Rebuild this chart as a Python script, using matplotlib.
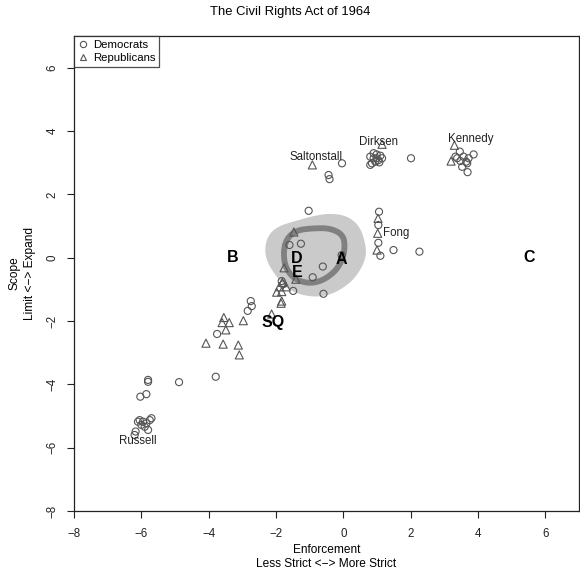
import matplotlib
matplotlib.use("Agg")
import matplotlib.pyplot as plt
from matplotlib.lines import Line2D
import numpy as np

plt.rcParams['font.family'] = ['Liberation Sans', 'DejaVu Sans']

# Democrats (circles)
dem_x = [-1.03, -1.60, -1.26, -0.61, -0.91, -0.59, -1.49, -1.83, -1.79, -0.05,
         1.06, 1.04, 1.04, 1.10, 1.49, 2.26,
         0.80, 0.90, 0.99, 1.10, 1.15, 1.04, 0.95, 0.85, 0.80, 0.90, 0.99, 1.07, 2.01,
         -0.04, -0.44, -0.41,
         3.46, 3.87, 3.72, 3.53, 3.69, 3.57, 3.38, 3.48, 3.65, 3.33, 3.68,
         -3.75, -2.84, -2.72, -2.75,
         -5.80, -5.80, -6.03, -5.85, -4.88, -3.79,
         -6.05, -5.95, -5.85, -5.75, -5.70, -6.00, -5.90, -5.80, -6.10, -6.17, -6.20]
dem_y = [1.48, 0.40, 0.44, -0.28, -0.62, -1.14, -1.05, -0.74, -0.84, 0.08,
         1.45, 1.03, 0.47, 0.06, 0.24, 0.19,
         3.19, 3.30, 3.26, 3.22, 3.14, 3.08, 3.03, 2.98, 2.93, 3.14, 3.14, 3.01, 3.14,
         2.98, 2.61, 2.48,
         3.35, 3.26, 3.14, 2.87, 2.70, 3.19, 3.14, 3.05, 3.03, 3.19, 2.98,
         -2.41, -1.68, -1.53, -1.37,
         -3.86, -3.92, -4.39, -4.31, -3.93, -3.76,
         -5.13, -5.18, -5.23, -5.13, -5.07, -5.28, -5.34, -5.44, -5.18, -5.49, -5.60]

# Republicans (triangles)
rep_x = [-1.47, -1.76, -1.41, -1.81, -1.90, -1.70, -1.98, -1.83, -1.83, -1.85,
         -2.13, -2.97, -3.55, -3.60, -3.39, -3.49, -4.08, -3.57, -3.12, -3.09,
         1.03, 1.02, 1.00,
         -0.92, 1.15,
         3.30, 3.20]
rep_y = [0.81, -0.32, -0.68, -0.78, -0.92, -0.92, -1.09, -1.07, -1.37, -1.44,
         -1.78, -1.99, -1.89, -2.05, -2.05, -2.28, -2.70, -2.73, -2.76, -3.07,
         1.24, 0.77, 0.24,
         2.93, 3.58,
         3.55, 3.05]

# Senator labels
sen_names = ["Kennedy", "Dirksen", "Saltonstall", "Russell"]
sen_x = [3.77, 1.04, -0.82, -6.11]
sen_y = [3.75, 3.66, 3.17, -5.79]
fong_xy = (1.19, 0.77)

# Proposal labels
prop_names = ["A", "B", "C", "D", "E", "SQ"]
prop_x = [-0.05, -3.28, 5.53, -1.38, -1.36, -2.08]
prop_y = [-0.05, 0.0, 0.0, -0.02, -0.46, -2.04]

# Light gray region outline
reg_x = [-2.34, -2.22, -1.90, -1.38, -0.89, -0.39, 0.12, 0.48, 0.64, 0.69, 0.53,
         0.22, -0.29, -0.79, -1.31, -1.71, -2.01, -2.27]
reg_y = [0.30, 0.74, 1.01, 1.17, 1.32, 1.40, 1.32, 1.00, 0.52, 0.08, -0.36,
         -0.79, -1.14, -1.25, -1.16, -0.95, -0.57, -0.13]

# Dark ring
ring_x = [-1.78, -1.68, -1.38, -0.89, -0.39, 0.00, 0.05, -0.05, -0.29, -0.69,
          -1.09, -1.49, -1.73]
ring_y = [0.19, 0.61, 0.87, 0.93, 0.93, 0.72, 0.30, -0.13, -0.49, -0.76,
          -0.81, -0.65, -0.28]


def chaikin(xs, ys, n=3):
    p = np.column_stack([xs, ys])
    for _ in range(n):
        q = np.roll(p, -1, axis=0)
        a = 0.75 * p + 0.25 * q
        b = 0.25 * p + 0.75 * q
        p = np.empty((2 * len(a), 2))
        p[0::2] = a
        p[1::2] = b
    p = np.vstack([p, p[:1]])
    return p[:, 0], p[:, 1]


fig = plt.figure(figsize=(5.8, 5.71), dpi=100)
ax = fig.add_axes([74/580, 1 - 511/571, 505/580, 475/571])

rx, ry = chaikin(reg_x, reg_y)
ax.fill(rx, ry, color='#cacaca', lw=0, zorder=1)
cx, cy = chaikin(ring_x, ring_y)
ax.plot(cx, cy, color='#808080', lw=4.2, solid_joinstyle='round',
        solid_capstyle='round', zorder=2)

ax.scatter(dem_x, dem_y, s=26, marker='o', facecolors='none',
           edgecolors='#555555', linewidths=0.8, zorder=3)
ax.scatter(rep_x, rep_y, s=34, marker='^', facecolors='none',
           edgecolors='#555555', linewidths=0.8, zorder=3)

for n, x, y in zip(sen_names, sen_x, sen_y):
    ax.text(x, y, n, ha='center', va='center', fontsize=8.3, color='#222222', zorder=4)
ax.text(fong_xy[0], fong_xy[1], "Fong", ha='left', va='center', fontsize=8.3,
        color='#222222', zorder=4)

for n, x, y in zip(prop_names, prop_x, prop_y):
    ax.text(x, y, n, ha='center', va='center', fontsize=11.5, fontweight='bold',
            color='black', zorder=5)

ax.set_xlim(-8, 7)
ax.set_ylim(-8, 7)
ax.set_xticks(range(-8, 7, 2))
ax.set_yticks(range(-8, 7, 2))
ax.set_xticklabels([str(v).replace('-', '\u2212') for v in range(-8, 7, 2)])
ax.set_yticklabels([str(v).replace('-', '\u2212') for v in range(-8, 7, 2)],
                   rotation=90, va='center')
ax.tick_params(direction='out', length=5, width=0.8, labelsize=8.3, pad=7,
               colors='#222222')
ax.tick_params(axis='y', pad=6)
for sp in ax.spines.values():
    sp.set_linewidth(0.9)
    sp.set_color('#222222')

ax.set_xlabel("Enforcement\nLess Strict <\u2212> More Strict", fontsize=8.6,
              labelpad=3, linespacing=1.2)
ax.set_ylabel("Scope\nLimit <\u2212> Expand", fontsize=8.6, labelpad=8,
              linespacing=1.4)
fig.text(0.5, 1 - 12/571, "The Civil Rights Act of 1964", ha='center',
         va='center', fontsize=9.4)

handles = [Line2D([], [], marker='o', ls='none', mfc='none', mec='#555555',
                  ms=4.5, mew=0.8),
           Line2D([], [], marker='^', ls='none', mfc='none', mec='#555555',
                  ms=5, mew=0.8)]
leg = ax.legend(handles, ["Democrats", "Republicans"], loc='upper left',
                fontsize=8.2, frameon=True, fancybox=False, borderaxespad=0,
                handlelength=0.8, handletextpad=0.5, borderpad=0.35,
                labelspacing=0.3)
leg.get_frame().set_edgecolor('#222222')
leg.get_frame().set_linewidth(0.9)

fig.savefig("out.png", dpi=100)
